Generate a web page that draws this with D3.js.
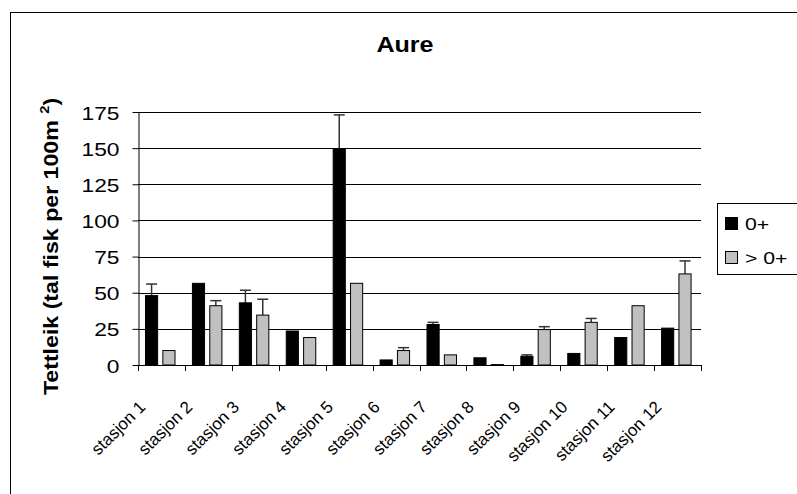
<!DOCTYPE html>
<html>
<head>
<meta charset="utf-8">
<script src="https://cdn.jsdelivr.net/npm/d3@7"></script>
<style>
  html, body { margin: 0; padding: 0; background: #fff; }
  svg { display: block; }
  text { font-family: "Liberation Sans", Arial, Helvetica, sans-serif; fill: #000; }
</style>
</head>
<body>
<svg id="chart" width="797" height="494"></svg>
<script>
// ---- data ----
const categories = ["stasjon 1","stasjon 2","stasjon 3","stasjon 4","stasjon 5","stasjon 6",
                    "stasjon 7","stasjon 8","stasjon 9","stasjon 10","stasjon 11","stasjon 12"];
const seriesNames = ["0+", "> 0+"];
const zeroPlus     = [48, 56.5, 43, 23.5, 149.5, 3.5, 28, 5, 6, 8, 19, 25.5];
const zeroPlusErr  = [8, 0, 8.7, 0, 23.5, 0, 1.5, 0, 1, 0, 0, 0];
const olderFish    = [10, 41, 34.5, 19, 56.5, 10, 7, 0.3, 24.5, 29.5, 41, 63];
const olderFishErr = [0, 3.5, 11, 0, 0, 2, 0, 0, 2, 2.7, 0, 9];
const yTicks = [0, 25, 50, 75, 100, 125, 150, 175];
const chartTitle = "Aure";
const yTitle = "Tettleik (tal fisk per 100m ";

// ---- layout ----
const svg = d3.select("#chart");
const plotLeft = 138, plotRight = 701, plotTop = 112, plotBottom = 365;
const colors = { "0+": "#000000", "> 0+": "#c0c0c0" };

// outer border (cropped at right/bottom)
svg.append("rect").attr("x", 10.5).attr("y", 12.5).attr("width", 820).attr("height", 520)
  .attr("fill", "none").attr("stroke", "#000").attr("stroke-width", 1);

const x = d3.scaleBand().domain(categories).range([plotLeft, plotRight]).padding(0);
const xs = d3.scaleBand().domain(seriesNames).range([7.5, 37]).paddingInner(0.3).paddingOuter(0);
const y = d3.scaleLinear().domain([0, 175]).range([plotBottom, plotTop]);

// gridlines
svg.append("g").selectAll("line").data(yTicks.filter(d => d > 0)).join("line")
  .attr("x1", plotLeft).attr("x2", plotRight)
  .attr("y1", d => Math.round(y(d)) + 0.5).attr("y2", d => Math.round(y(d)) + 0.5)
  .attr("stroke", "#000").attr("stroke-width", 1);

// y axis
const yAxis = svg.append("g").attr("transform", `translate(${plotLeft + 0.5},0)`)
  .call(d3.axisLeft(y).tickValues(yTicks).tickSize(6).tickSizeOuter(0));
yAxis.select(".domain").attr("stroke", "#000");
yAxis.selectAll(".tick line").attr("stroke", "#000");
yAxis.selectAll(".tick text")
  .attr("x", null).attr("dy", null)
  .attr("transform", "translate(-19,7) scale(1.2,1)")
  .style("font-size", "19px").style("font-family", '"Liberation Sans", Arial, sans-serif')
  .attr("fill", "#000").attr("text-anchor", "end");

// data rows
const rows = categories.map((c, i) => ({
  cat: c,
  vals: [
    { s: seriesNames[0], v: zeroPlus[i], e: zeroPlusErr[i] },
    { s: seriesNames[1], v: olderFish[i], e: olderFishErr[i] }
  ]
}));

const groups = svg.append("g").selectAll("g").data(rows).join("g")
  .attr("transform", d => `translate(${x(d.cat)},0)`);

// error bars
groups.selectAll("g.err").data(d => d.vals.filter(v => v.e > 0)).join("g").attr("class", "err")
  .each(function(d) {
    const g = d3.select(this);
    const cx = xs(d.s) + xs.bandwidth() / 2;
    g.append("line").attr("x1", cx).attr("x2", cx).attr("y1", y(d.v)).attr("y2", y(d.v + d.e))
      .attr("stroke", "#333").attr("stroke-width", 1.5);
    g.append("line").attr("x1", cx - 5.5).attr("x2", cx + 5.5)
      .attr("y1", y(d.v + d.e)).attr("y2", y(d.v + d.e))
      .attr("stroke", "#333").attr("stroke-width", 1.5);
  });

groups.selectAll("rect").data(d => d.vals).join("rect")
  .attr("x", d => xs(d.s))
  .attr("width", xs.bandwidth())
  .attr("y", d => y(d.v))
  .attr("height", d => y(0) - y(d.v))
  .attr("fill", d => colors[d.s])
  .attr("stroke", "#000").attr("stroke-width", 1);

// x axis line and boundary ticks
svg.append("line").attr("x1", plotLeft).attr("x2", plotRight + 0.5)
  .attr("y1", plotBottom + 0.5).attr("y2", plotBottom + 0.5).attr("stroke", "#000");
const boundaries = categories.map(c => x(c)).concat([x.range()[1]]);
svg.append("g").selectAll("line").data(boundaries).join("line")
  .attr("x1", d => Math.round(d) + 0.5).attr("x2", d => Math.round(d) + 0.5)
  .attr("y1", plotBottom).attr("y2", plotBottom + 6).attr("stroke", "#000");

// x labels
svg.append("g").selectAll("text").data(categories).join("text")
  .attr("transform", d => `translate(${x(d) + x.bandwidth() / 2 - 15},408) rotate(-45)`)
  .attr("text-anchor", "end")
  .style("font-size", "17px")
  .text(d => d);

// title
svg.append("text")
  .attr("transform", "translate(405,52) scale(1.14,1)")
  .attr("text-anchor", "middle")
  .style("font-size", "22px").style("font-weight", "bold")
  .text(chartTitle);

// y title
const yt = svg.append("text")
  .attr("transform", "translate(58,246.5) rotate(-90) scale(1.13,1)")
  .attr("text-anchor", "middle")
  .style("font-size", "20.5px").style("font-weight", "bold");
yt.append("tspan").text(yTitle);
yt.append("tspan").attr("dy", -9).style("font-size", "13px").text("2");
yt.append("tspan").attr("dy", 9).text(")");

// legend
const lg = svg.append("g");
lg.append("rect").attr("x", 717.5).attr("y", 203.5).attr("width", 100).attr("height", 71)
  .attr("fill", "#fff").attr("stroke", "#000");
const li = lg.selectAll("g").data(seriesNames).join("g")
  .attr("transform", (d, i) => `translate(725,${217 + i * 34})`);
li.append("rect").attr("x", 0.5).attr("y", 0.5).attr("width", 12).attr("height", 12)
  .attr("fill", d => colors[d]).attr("stroke", "#000");
li.append("text").attr("transform", "translate(20,13) scale(1.25,1)")
  .style("font-size", "17px").text(d => d);
</script>
</body>
</html>
